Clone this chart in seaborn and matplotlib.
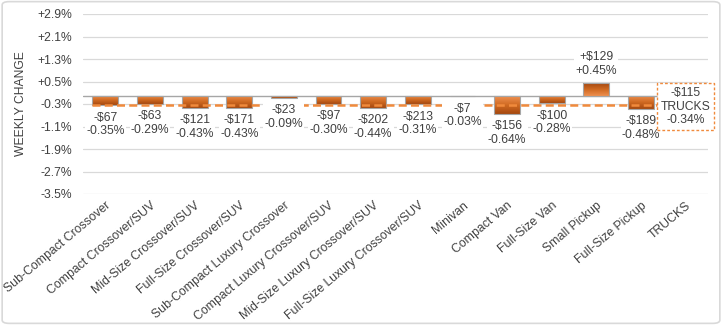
import matplotlib
matplotlib.use("Agg")
import matplotlib.pyplot as plt
import seaborn as sns
import numpy as np
import pandas as pd
from matplotlib.patches import FancyBboxPatch
from matplotlib.colors import LinearSegmentedColormap

categories = ["Sub-Compact Crossover", "Compact Crossover/SUV", "Mid-Size Crossover/SUV",
              "Full-Size Crossover/SUV", "Sub-Compact Luxury Crossover", "Compact Luxury Crossover/SUV",
              "Mid-Size Luxury Crossover/SUV", "Full-Size Luxury Crossover/SUV", "Minivan",
              "Compact Van", "Full-Size Van", "Small Pickup", "Full-Size Pickup", "TRUCKS"]
dollars = [-67, -63, -121, -171, -23, -97, -202, -213, -7, -156, -100, 129, -189, -115]
pct = [-0.35, -0.29, -0.43, -0.43, -0.09, -0.30, -0.44, -0.31, -0.03, -0.64, -0.28, 0.45, -0.48, -0.34]
segment_label = "TRUCKS"
y_ticks = [-3.5, -2.7, -1.9, -1.1, -0.3, 0.5, 1.3, 2.1, 2.9]

sns.set_theme(style="white")
plt.rcParams['font.family'] = ['Liberation Sans', 'DejaVu Sans']

FS = 8.7
TXT = "#404040"

bar_vals = [p if c != segment_label else np.nan for c, p in zip(categories, pct)]
df = pd.DataFrame({"cat": categories, "val": bar_vals})

fig = plt.figure(figsize=(7.22, 3.25), dpi=100)
ax = fig.add_axes([83/722, 1-194/325, (708-83)/722, (194-14)/325])

sns.barplot(data=df, x="cat", y="val", ax=ax, color="#C8621E", width=0.58,
            edgecolor="#A6A6A6", linewidth=0.8, zorder=3)

ax.set_ylim(-3.5, 2.9)
ax.set_xlim(-0.5, len(categories) - 0.5)
ax.set_yticks(y_ticks)
ax.set_yticklabels([("+" if t > 0 else "") + f"{t:.1f}%" for t in y_ticks],
                   fontsize=FS, color=TXT)
ax.yaxis.grid(True, color="#D9D9D9", linewidth=0.9, zorder=0)
ax.set_axisbelow(True)
for s in ax.spines.values():
    s.set_visible(False)
ax.axhline(0, color="#A6A6A6", linewidth=1.0, zorder=2)
ax.tick_params(axis="y", length=0, pad=8)
ax.tick_params(axis="x", length=0, pad=4)
ax.set_xticks(range(len(categories)))
ax.set_xticklabels(categories, rotation=40, ha="right", rotation_mode="anchor",
                   fontsize=8.8, color=TXT)
ax.set_xlabel("")
ax.set_ylabel("WEEKLY CHANGE", fontsize=FS, color=TXT, labelpad=7)

# gradient fill on bars
cmap = LinearSegmentedColormap.from_list("g", ["#EE9050", "#D06A22", "#A5480F"])
for patch in ax.patches:
    h = patch.get_height()
    if np.isnan(h) or h == 0:
        continue
    x0 = patch.get_x(); w = patch.get_width(); y0 = patch.get_y()
    grad = np.linspace(0, 1, 64).reshape(-1, 1)
    if h < 0:
        extent = [x0, x0 + w, y0 + h, y0]
        img = ax.imshow(grad, extent=extent, origin="upper",
                        cmap=cmap, aspect="auto", zorder=3.5)
    else:
        extent = [x0, x0 + w, y0, y0 + h]
        img = ax.imshow(grad, extent=extent, origin="lower", cmap=cmap,
                        aspect="auto", zorder=3.5)
    img.set_clip_path(patch)
    patch.set_facecolor("none")
    patch.set_zorder(4)

ax.set_xlim(-0.5, len(categories) - 0.5)
ax.set_ylim(-3.5, 2.9)

# segment average dashed line
seg_val = pct[categories.index(segment_label)]
ax.plot([-0.3, len(categories) - 1.58], [seg_val, seg_val], color="#F08A3C",
        linestyle=(0, (3.2, 1.7)), linewidth=1.8, zorder=5)

# labels
for i, (c, d, p) in enumerate(zip(categories, dollars, pct)):
    sd = ("+" if d > 0 else "-") + f"${abs(d)}"
    sp = ("+" if p > 0 else "") + f"{p:.2f}%"
    if c == segment_label:
        ax.text(i, seg_val - 0.05, f"{sd}\n{c}\n{sp}", ha="center", va="center",
                fontsize=FS, color=TXT, linespacing=1.2, zorder=6, clip_on=False,
                bbox=dict(boxstyle="square,pad=0.28", fc="white", ec="#F08A3C",
                          ls=(0, (2, 1.5)), lw=1.0))
        continue
    if p < 0:
        ax.annotate(f"{sd}\n{sp}", (i, p), xytext=(0, -4.5), textcoords="offset points",
                    ha="center", va="top", fontsize=FS, color=TXT, linespacing=1.2,
                    zorder=6, bbox=dict(boxstyle="square,pad=0.1", fc="white", ec="none"))
    else:
        ax.annotate(f"{sd}\n{sp}", (i, p), xytext=(0, 4.5), textcoords="offset points",
                    ha="center", va="bottom", fontsize=FS, color=TXT, linespacing=1.2,
                    zorder=6, bbox=dict(boxstyle="square,pad=0.1", fc="white", ec="none"))

# outer border
fig.patches.append(FancyBboxPatch((0.003, 0.005), 0.994, 0.99, boxstyle="round,pad=0,rounding_size=0.01",
                                  transform=fig.transFigure, fc="none", ec="#D9D9D9", lw=1.2))

fig.savefig("out.png", dpi=100)
